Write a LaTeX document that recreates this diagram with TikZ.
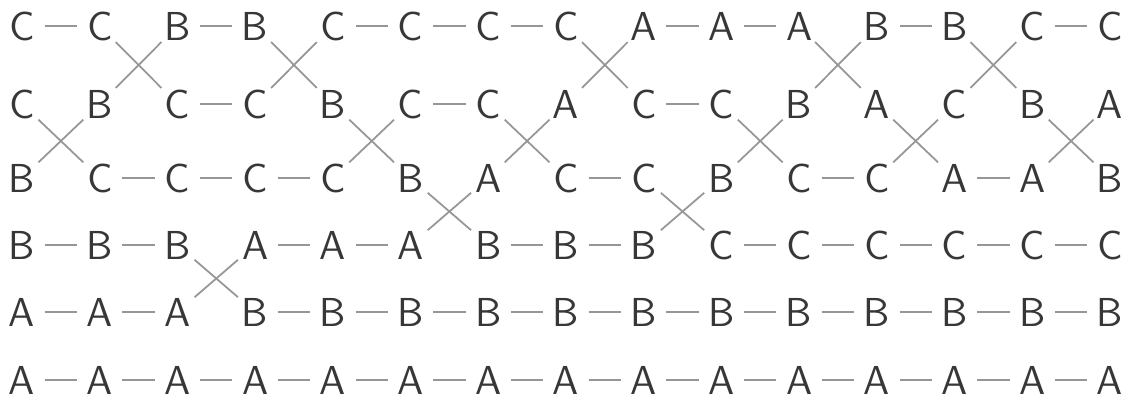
\documentclass[tikz,border=0pt]{standalone}
\usepackage{tikz}
\definecolor{pencil}{RGB}{55,55,55}
\definecolor{lightpencil}{RGB}{150,150,150}
\tikzset{
  letter/.style={circle,minimum size=0.44cm,inner sep=0pt,text=pencil,font=\sffamily\fontsize{11.5}{14}\selectfont},
  link/.style={lightpencil,line width=0.5pt}
}

\begin{document}
\begin{tikzpicture}
\useasboundingbox (0,0) rectangle (11.39,-4.01);
% Letters, one column at a time
\foreach \col/\letters in {0/{C,C,B,B,A,A},1/{C,B,C,B,A,A},2/{B,C,C,B,A,A},3/{B,C,C,A,B,A},
  4/{C,B,C,A,B,A},5/{C,C,B,A,B,A},6/{C,C,A,B,B,A},7/{C,A,C,B,B,A},8/{A,C,C,B,B,A},
  9/{A,C,B,C,B,A},10/{A,B,C,C,B,A},11/{B,A,C,C,B,A},12/{B,C,A,C,B,A},13/{C,B,A,C,B,A},
  14/{C,A,B,C,B,A}}{
  \foreach \ch [count=\row] in \letters {
    \pgfmathsetmacro\yy{{0.26,1.04,1.78,2.45,3.12,3.80}[\row-1]}
    \node[letter] (n-\col-\row) at ({0.22+0.7771*\col},-\yy) {\ch};
  }
}
% Links: straight, except one swap per gap
\foreach \gap/\sw in {0/2,1/1,2/4,3/1,4/2,5/3,6/2,7/1,8/3,9/2,10/1,11/2,12/1,13/2}{
  \pgfmathtruncatemacro\nxt{\gap+1}
  \pgfmathtruncatemacro\swb{\sw+1}
  \foreach \row in {1,...,6}{
    \ifnum\row=\sw\relax
    \else\ifnum\row=\swb\relax
    \else
      \draw[link] (n-\gap-\row) -- (n-\nxt-\row);
    \fi\fi
  }
  \draw[link] (n-\gap-\sw) -- (n-\nxt-\swb);
  \draw[link] (n-\gap-\swb) -- (n-\nxt-\sw);
}
\end{tikzpicture}
\end{document}
